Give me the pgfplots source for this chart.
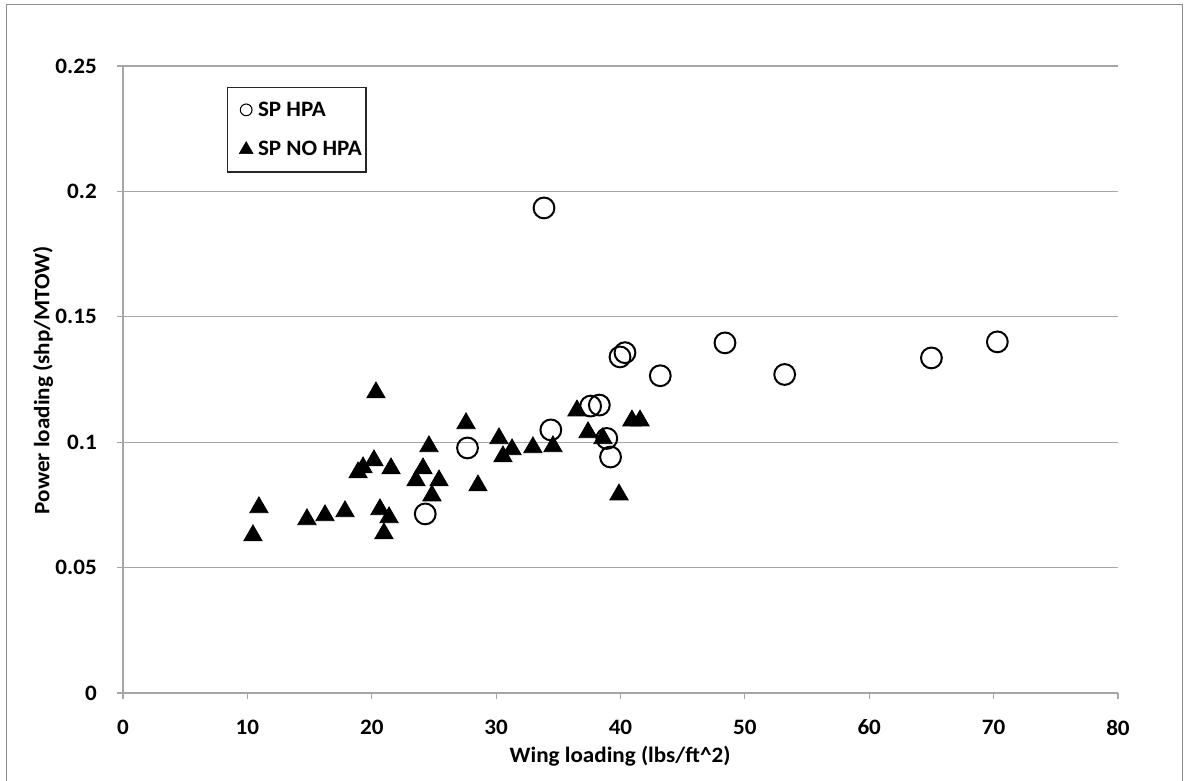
\documentclass[border=0pt]{standalone}
\usepackage{fontspec}
\setmainfont{Carlito}[FakeStretch=1.05]
\usepackage{pgfplots}
\pgfplotsset{compat=1.18}
\definecolor{gridgray}{RGB}{166,166,166}
\definecolor{framegray}{RGB}{140,140,140}
\newcommand{\chartfont}{\fontsize{16.5}{20}\selectfont\bfseries}

% Power loading versus wing loading
\pgfplotstableread{
x y
33.85 0.1934
24.30 0.0714
27.70 0.0977
34.40 0.1049
37.60 0.1144
38.30 0.1148
38.90 0.1015
39.20 0.0941
39.96 0.1340
40.36 0.1357
43.20 0.1265
48.40 0.1396
53.20 0.1270
65.00 0.1336
70.30 0.1400
}\hpa

\pgfplotstableread{
x y
20.34 0.1198
27.58 0.1075
24.60 0.0983
30.23 0.1015
31.28 0.0971
30.55 0.0943
32.96 0.0979
34.57 0.0983
36.50 0.1126
37.39 0.1039
38.59 0.1015
40.92 0.1086
41.57 0.1086
39.88 0.0791
28.54 0.0827
24.84 0.0787
25.41 0.0847
23.56 0.0847
24.12 0.0895
21.55 0.0895
20.18 0.0927
19.30 0.0899
18.90 0.0879
10.93 0.0740
10.45 0.0628
14.79 0.0692
16.24 0.0708
17.85 0.0724
20.66 0.0732
21.39 0.0700
20.98 0.0636
}\nohpa

\begin{document}
\begin{tikzpicture}
\useasboundingbox (-92.25pt,-66pt) rectangle (797.25pt,519.75pt);
\draw[framegray, line width=1.2pt] (-87.4pt,-80pt) -- (-87.4pt,516.4pt) -- (794.6pt,516.4pt) -- (794.6pt,-80pt);
\begin{axis}[
  at={(0pt,0pt)}, anchor=south west,
  scale only axis, width=746.25pt, height=470.25pt,
  xmin=0, xmax=80, ymin=0, ymax=0.25,
  axis lines*=left,
  axis line style={gridgray, line width=0.8pt},
  xtick={0,10,...,80},
  xticklabels={0,10,20,30,40,50,60,70,80},
  ytick={0,0.05,0.1,0.15,0.2,0.25},
  yticklabels={0,0.05,0.1,0.15,0.2,0.25},
  tick align=outside,
  major tick length=4.5pt,
  tick style={gridgray, line width=0.8pt},
  ymajorgrids,
  major grid style={gridgray, line width=0.8pt},
  xticklabel style={font=\chartfont, anchor=north, inner sep=0pt, yshift=-15.5pt},
  yticklabel style={font=\chartfont, anchor=east, inner sep=0pt, xshift=-15pt},
  xlabel={Wing loading (lbs/ft\textasciicircum 2)},
  ylabel={Power loading (shp/MTOW)},
  xlabel style={font=\chartfont, at={(axis description cs:0.4995,0)}, anchor=center, yshift=-47.5pt},
  ylabel style={font=\chartfont, at={([xshift=-60pt]axis description cs:0,0.499)}, anchor=center},
  legend style={at={(0.1045,0.9665)}, anchor=north west, draw=black!85, line width=1pt,
    font=\chartfont, inner xsep=3pt, inner ysep=10.5pt, row sep=17.5pt, column sep=0pt,
    nodes={inner sep=0pt}, cells={anchor=west}},
  legend image code/.code={\path (-10.5pt,0pt) (8.5pt,0pt);
    \draw[#1] plot coordinates {(0pt,0pt)};},
  clip=false,
]
\addplot[only marks, mark=o, mark size=7.8pt, line width=1.5pt, black,
  legend image post style={mark size=4.4pt, line width=0.8pt}]
  table[x=x, y=y] {\hpa};
\addlegendentry{SP HPA}
\addplot[only marks, mark=triangle*, mark size=7.9pt, line width=0.6pt, black, fill=black,
  legend image post style={mark size=6pt, line width=0.4pt}]
  table[x=x, y=y] {\nohpa};
\addlegendentry{SP NO HPA}
\end{axis}
\end{tikzpicture}
\end{document}
